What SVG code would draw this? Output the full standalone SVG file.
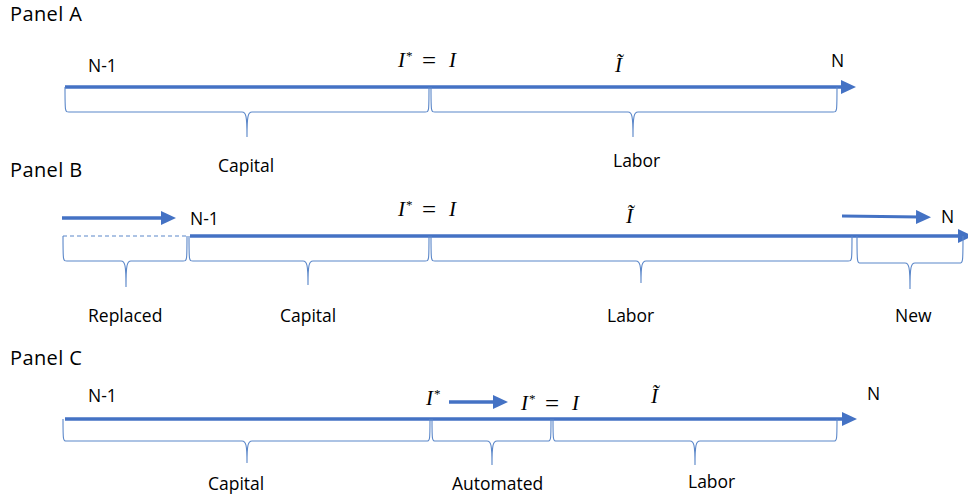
<svg xmlns="http://www.w3.org/2000/svg" width="968" height="501" viewBox="0 0 968 501">
<style>
.title{font-family:"Open Sans","Liberation Sans",sans-serif;font-size:20px;fill:#000;letter-spacing:0.4px}
.lbl{font-family:"Open Sans","Liberation Sans",sans-serif;font-size:17.5px;fill:#000}
.math{font-family:"Liberation Serif","DejaVu Serif",serif;font-size:21px;fill:#000}
.it{font-style:italic}
.sup{font-size:13px}
.eq{font-size:25px}
.axis{stroke:#4472C4;stroke-width:3.5;fill:none}
.thin{stroke:#4472C4;stroke-width:3;fill:none}
.brace{stroke:#5B87C9;stroke-width:1.1;fill:none}
.dash{stroke:#5B87C9;stroke-width:1;stroke-dasharray:4 3;fill:none}
</style>
<defs>
<marker id="ah" markerUnits="userSpaceOnUse" markerWidth="15" markerHeight="14" viewBox="0 0 15 14" refX="4" refY="7" orient="auto">
<path d="M0,0 L15,7 L0,14 z" fill="#4472C4"/>
</marker>
</defs>

<g id="panelA">
<text class="title" x="10" y="21">Panel A</text>
<text class="lbl" x="88" y="72">N-1</text>
<text class="lbl" x="831" y="67">N</text>
<text class="math" y="67"><tspan class="it" x="398">I</tspan><tspan class="sup" x="406" y="60">*</tspan><tspan class="eq" x="422" y="69">=</tspan><tspan class="it" x="449" y="67">I</tspan></text>
<text class="math it" x="615" y="72">Ĩ</text>
<text class="lbl" x="218" y="172">Capital</text>
<text class="lbl" x="613" y="167">Labor</text>
</g>

<g id="panelB">
<text class="title" x="10" y="177">Panel B</text>
<text class="lbl" x="190" y="225">N-1</text>
<text class="lbl" x="941" y="223">N</text>
<text class="math" y="216"><tspan class="it" x="398">I</tspan><tspan class="sup" x="406" y="209">*</tspan><tspan class="eq" x="422" y="218">=</tspan><tspan class="it" x="449" y="216">I</tspan></text>
<text class="math it" x="626" y="223">Ĩ</text>
<text class="lbl" x="88" y="322">Replaced</text>
<text class="lbl" x="280" y="322">Capital</text>
<text class="lbl" x="607" y="322">Labor</text>
<text class="lbl" x="895" y="322">New</text>
</g>

<g id="panelC">
<text class="title" x="10" y="365">Panel C</text>
<text class="lbl" x="88" y="402">N-1</text>
<text class="lbl" x="867" y="400">N</text>
<text class="math" y="405"><tspan class="it" x="426">I</tspan><tspan class="sup" x="434" y="398">*</tspan></text>
<text class="math" y="410"><tspan class="it" x="521">I</tspan><tspan class="sup" x="529" y="403">*</tspan><tspan class="eq" x="545" y="412">=</tspan><tspan class="it" x="572" y="410">I</tspan></text>
<text class="math it" x="651" y="403">Ĩ</text>
<text class="lbl" x="208" y="490">Capital</text>
<text class="lbl" x="452" y="490">Automated</text>
<text class="lbl" x="688" y="488">Labor</text>
</g>

<g id="connectors">
<!-- Panel A -->
<line class="axis" x1="65" y1="87" x2="845" y2="87" marker-end="url(#ah)"/>
<path class="brace" d="M65,87 C65,112 65,112 69,112 H242 C246,112 247,116 247,137 C247,116 248,112 252,112 H425 C429,112 429,112 429,87"/>
<path class="brace" d="M431,87 C431,112 431,112 435,112 H628 C632,112 633,116 633,137 C633,116 634,112 638,112 H833 C837,112 837,112 837,87"/>
<!-- Panel B -->
<line class="axis" x1="62" y1="218" x2="165" y2="218" marker-end="url(#ah)"/>
<line class="thin" x1="842" y1="216" x2="920" y2="217" marker-end="url(#ah)"/>
<line class="dash" x1="63" y1="236" x2="189" y2="236"/>
<line class="axis" x1="190" y1="236" x2="962" y2="236" marker-end="url(#ah)"/>
<path class="brace" d="M63,236 C63,261 63,261 67,261 H121 C125,261 126,265 126,287 C126,265 127,261 131,261 H183 C187,261 187,261 187,236"/>
<path class="brace" d="M189,236 C189,261 189,261 193,261 H303 C307,261 308,265 308,285 C308,265 309,261 313,261 H425 C429,261 429,261 429,236"/>
<path class="brace" d="M431,236 C431,261 431,261 435,261 H636 C640,261 641,265 641,283 C641,265 642,261 646,261 H848 C852,261 852,261 852,236"/>
<path class="brace" d="M857,236 C857,263 857,263 861,263 H905 C909,263 910,267 910,289 C910,267 911,263 915,263 H959 C963,263 963,263 963,236"/>
<!-- Panel C -->
<line class="axis" x1="65" y1="419" x2="846" y2="419" marker-end="url(#ah)"/>
<line class="axis" x1="449" y1="402" x2="497" y2="402" marker-end="url(#ah)"/>
<path class="brace" d="M63,419 C63,441 63,441 67,441 H242 C246,441 247,445 247,463 C247,445 248,441 252,441 H426 C430,441 430,441 430,419"/>
<path class="brace" d="M432,419 C432,441 432,441 436,441 H487 C491,441 492,445 492,465 C492,445 493,441 497,441 H547 C551,441 551,441 551,419"/>
<path class="brace" d="M553,419 C553,441 553,441 557,441 H690 C694,441 695,445 695,465 C695,445 696,441 700,441 H833 C837,441 837,441 837,419"/>
</g>
</svg>
